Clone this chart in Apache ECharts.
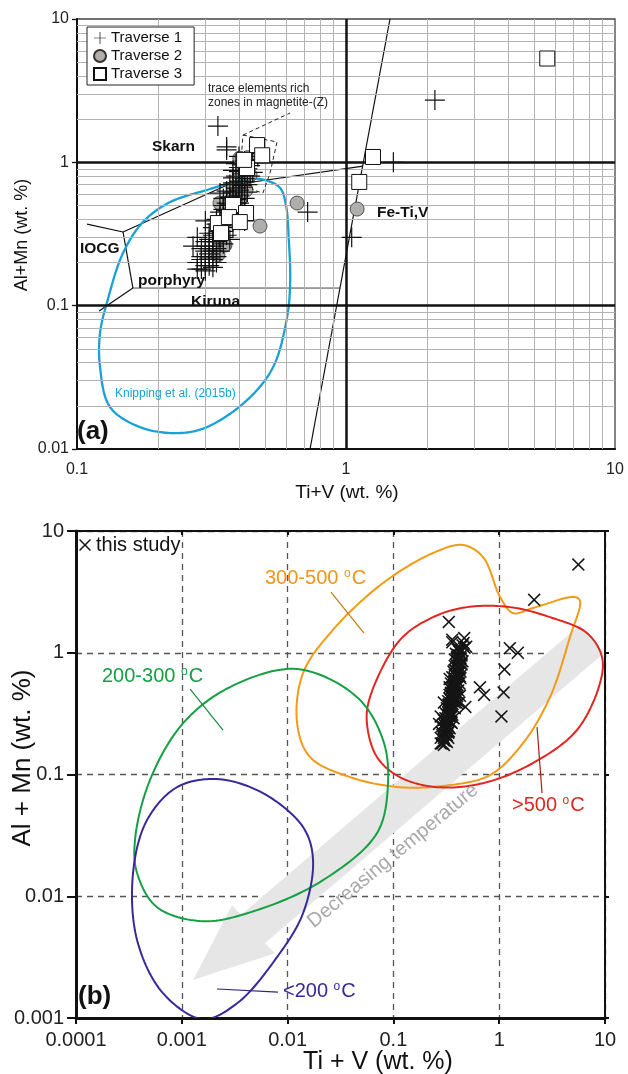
<!DOCTYPE html>
<html><head><meta charset="utf-8">
<script src="https://cdn.jsdelivr.net/npm/echarts@6/dist/echarts.min.js"></script>
<style>html,body{margin:0;padding:0;background:#fff}#c{width:628px;height:1074px}</style>
</head><body><div id="c"></div>
<script>
// ---------------- DATA (wt. %) ----------------
// Panel (a): magnetite analyses, three traverses  [Ti+V, Al+Mn]
const traverse1 = [
  [0.334,1.79],[2.14,2.72],[1.50,1.00],[1.05,0.30],[0.72,0.45],[0.36,1.28],[0.36,1.22],
  [0.29,0.18],[0.30,0.175],[0.31,0.19],[0.28,0.20],[0.30,0.20],[0.32,0.21],[0.29,0.22],
  [0.31,0.23],[0.33,0.22],[0.29,0.25],[0.31,0.25],[0.32,0.26],[0.34,0.24],[0.27,0.26],
  [0.28,0.30],[0.30,0.28],[0.31,0.29],[0.33,0.28],[0.35,0.27],[0.37,0.29],[0.31,0.32],
  [0.32,0.31],[0.34,0.33],[0.36,0.31],[0.32,0.35],[0.33,0.37],[0.35,0.36],[0.38,0.35],
  [0.30,0.39],[0.33,0.40],[0.34,0.42],[0.36,0.40],[0.39,0.41],[0.42,0.39],[0.34,0.45],
  [0.35,0.47],[0.37,0.45],[0.40,0.44],[0.35,0.50],[0.36,0.52],[0.38,0.50],[0.41,0.49],
  [0.35,0.56],[0.37,0.57],[0.39,0.55],[0.42,0.56],[0.34,0.61],[0.36,0.63],[0.38,0.62],
  [0.40,0.64],[0.43,0.62],[0.37,0.70],[0.38,0.72],[0.41,0.69],[0.38,0.78],[0.39,0.80],
  [0.42,0.77],[0.38,0.88],[0.40,0.86],[0.43,0.90],[0.39,0.98],[0.41,0.96],[0.40,1.10],
  [0.30,0.19],[0.32,0.185],[0.29,0.21],[0.31,0.215],[0.30,0.24],[0.32,0.24],[0.33,0.25],
  [0.30,0.26],[0.32,0.28],[0.34,0.30],[0.33,0.32],[0.35,0.33],[0.34,0.35],[0.36,0.38],
  [0.35,0.41],[0.37,0.42],[0.36,0.46],[0.38,0.47],[0.37,0.51],[0.39,0.52],[0.38,0.58],
  [0.40,0.59],[0.39,0.66],[0.41,0.67],[0.40,0.74],[0.42,0.73],[0.41,0.83],[0.40,0.92],
  [0.42,1.02],[0.44,1.05],[0.45,1.15],[0.46,1.20],[0.44,0.95],[0.45,0.85],
  [0.28,0.18],[0.33,0.20],[0.35,0.30],[0.38,0.39],[0.40,0.52],[0.43,0.70],[0.44,0.80],[0.47,1.10]
];
const traverse2 = [
  [0.403,1.07],[0.44,0.815],[0.425,0.641],[0.403,0.546],[0.364,0.443],[0.346,0.365],
  [0.334,0.226],[0.355,0.265],[0.38,0.662],[0.34,0.52],[0.375,0.546],
  [0.658,0.52],[1.10,0.472],[0.479,0.359]
];
const traverse3 = [
  [0.467,1.32],[0.488,1.12],[0.4285,0.912],[0.418,1.04],[0.38,0.504],[0.425,0.443],
  [0.334,0.377],[0.343,0.321],[0.367,0.415],[0.403,0.383],[1.26,1.09],[1.12,0.73],[5.6,5.3]
];
// Panel (b): same analyses plotted as "this study"
const thisStudy = traverse1.concat(traverse2, traverse3);

// Panel (a) discrimination-diagram boundaries
const lineLowLeft   = [[0.1208,0.0917],[0.1614,0.1327]];
const lineKiruna    = [[0.1614,0.1327],[0.951,0.1327]];
const lineIOCG      = [[0.1614,0.1327],[0.1483,0.3265]];
const lineIOCGLeft  = [[0.1483,0.3265],[0.109,0.371]];
const lineSkarn     = [[0.1483,0.3265],[0.355,0.684],[1.157,0.942]];
const lineFeTiV     = [[1.457,10],[0.735,0.01]];
const zoneZ         = [[0.414,1.55],[0.554,1.387],[0.522,0.842],[0.491,0.611],[0.451,0.641],[0.410,1.22],[0.414,1.55]];
const zoneZLeader   = [[0.414,1.55],[0.62,2.21]];
const knipping = [
  [0.4285,0.764],[0.50,0.752],[0.569,0.662],[0.598,0.504],[0.613,0.287],[0.620,0.144],
  [0.604,0.0832],[0.536,0.0373],[0.4285,0.0219],[0.304,0.01422],[0.2356,0.0129],
  [0.1714,0.01422],[0.1327,0.0196],[0.1218,0.0373],[0.1218,0.0644],[0.130,0.1094],
  [0.1483,0.233],[0.1758,0.383],[0.222,0.528],[0.304,0.641]
];

// Panel (b) temperature fields
const field300_500 = [
  [0.455,7.67],[0.703,6.11],[1.02,2.87],[1.35,2.12],[2.08,2.33],[5.2,2.87],[5.8,2.66],
  [4.67,1.35],[3.02,0.432],[1.68,0.181],[0.818,0.0989],[0.343,0.0818],[0.115,0.0787],
  [0.0389,0.0952],[0.0163,0.139],[0.0123,0.264],[0.014,0.681],[0.0268,1.54],[0.0798,3.74],[0.237,6.6]
];
const fieldGt500 = [
  [0.115,1.27],[0.0601,0.432],[0.0562,0.264],[0.070,0.139],[0.115,0.0952],[0.258,0.0787],
  [0.703,0.0849],[2.08,0.124],[5.43,0.232],[8.97,0.564],[9.37,0.922],[6.76,1.45],
  [3.02,1.96],[1.265,2.37],[0.497,2.37],[0.237,1.96]
];
const field200_300 = [
  [0.0123,0.735],[0.0453,0.432],[0.0798,0.192],[0.0889,0.0849],[0.070,0.033],[0.0216,0.01355],
  [0.00514,0.00769],[0.00158,0.00624],[0.000583,0.00813],[0.000378,0.0155],[0.000361,0.0289],
  [0.0005,0.09],[0.00103,0.264],[0.00286,0.523]
];
const fieldLt200 = [
  [0.00215,0.0917],[0.00585,0.0703],[0.014,0.037],[0.0174,0.0198],[0.014,0.00726],
  [0.00794,0.00316],[0.00333,0.00132],[0.00158,0.00098],[0.000664,0.0016],[0.000378,0.00436],
  [0.000346,0.0155],[0.000469,0.0422],[0.000902,0.0787]
];
const arrowBand = [[5.8,1.69],[0.00363,0.0070],[0.00298,0.00845],[0.00128,0.00205],[0.0076,0.0034],[0.0061,0.00412],[9.79,0.995]];
const leader300_500 = [[0.0257,3.15],[0.0527,1.45]];
const leader200_300 = [[0.0012,0.503],[0.00245,0.232]];
const leaderGt500   = [[2.28,0.245],[2.54,0.0703]];
const leaderLt200   = [[0.00215,0.00173],[0.00811,0.00163]];

// axis decades
const xDecadesA = [0.1, 1];
const yDecadesA = [0.01, 0.1, 1];
const thickA = [{xAxis:1},{yAxis:1},{yAxis:0.1}];

// ---------------- CHART ----------------
const F = 'Liberation Sans, Arial, Helvetica, sans-serif';
const PLUS = 'path://M0,9.4H20V10.6H0Z M9.4,0H10.6V20H9.4Z';
const CROSS = 'path://M0,1.7L1.7,0L10,8.3L18.3,0L20,1.7L11.7,10L20,18.3L18.3,20L10,11.7L1.7,20L0,18.3L8.3,10Z';

const minorX = [], minorY = [];
xDecadesA.forEach(d => { for (let k = 2; k <= 9; k++) minorX.push(+(k*d).toPrecision(3)); });
yDecadesA.forEach(d => { for (let k = 2; k <= 9; k++) minorY.push(+(k*d).toPrecision(3)); });

// closed centripetal Catmull-Rom through pixel points
function closedSpline(pts, seg) {
  const n = pts.length, out = [];
  const d = (p, q) => Math.max(Math.pow(Math.hypot(q[0]-p[0], q[1]-p[1]), 0.5), 1e-4);
  const lerp = (p, q, ta, tb, t) => [((tb-t)*p[0] + (t-ta)*q[0])/(tb-ta), ((tb-t)*p[1] + (t-ta)*q[1])/(tb-ta)];
  for (let i = 0; i < n; i++) {
    const p0 = pts[(i-1+n)%n], p1 = pts[i], p2 = pts[(i+1)%n], p3 = pts[(i+2)%n];
    const t0 = 0, t1 = t0 + d(p0,p1), t2 = t1 + d(p1,p2), t3 = t2 + d(p2,p3);
    for (let s = 0; s < seg; s++) {
      const t = t1 + (t2-t1)*s/seg;
      const A1 = lerp(p0,p1,t0,t1,t), A2 = lerp(p1,p2,t1,t2,t), A3 = lerp(p2,p3,t2,t3,t);
      const B1 = lerp(A1,A2,t0,t2,t), B2 = lerp(A2,A3,t1,t3,t);
      out.push(lerp(B1,B2,t1,t2,t));
    }
  }
  return out;
}

const chart = echarts.init(document.getElementById('c'), null, {renderer:'canvas'});

function lineSeries(data, color, width, xi, z, type) {
  return {type:'line', xAxisIndex:xi, yAxisIndex:xi, data:data, symbol:'none', silent:true, z:z||3,
          lineStyle:{color:color, width:width, type:type||'solid'}, animation:false};
}
function polySeries(points, xi, style, smooth, z) {
  return {type:'custom', xAxisIndex:xi, yAxisIndex:xi, data:[points[0]], clip:true, silent:true, z:z||3,
    renderItem: function(params, api) {
      let pts = points.map(p => api.coord(p));
      if (smooth) pts = closedSpline(pts, 16);
      return {type:'polygon', shape:{points:pts}, style:style, silent:true};
    }};
}
function txt(x, y, text, size, opts) {
  opts = opts || {};
  return {type:'text', x:x, y:y, rotation:opts.rotation||0, z:100, silent:true,
    style:{text:text, fontSize:size, fontFamily:F, fontWeight:opts.bold?'bold':'normal',
      fill:opts.color||'#111', align:opts.align||'left', textAlign:opts.align||'left',
      verticalAlign:'middle', textVerticalAlign:'middle'}};
}
function degTxt(x, y, num, color) {
  return {type:'text', x:x, y:y, z:100, silent:true,
    style:{text:'{m|'+num+' }{s|o}{m|C}', align:'left', verticalAlign:'middle',
      rich:{m:{fontSize:20, fontFamily:F, fill:color},
            s:{fontSize:12, fontFamily:F, fill:color, verticalAlign:'top', padding:[0,1,0,0]}}}};
}

const axLabA = {fontSize:16, fontFamily:F, color:'#222'};
const axLabB = {fontSize:20, fontFamily:F, color:'#222'};

const option = {
  animation:false,
  backgroundColor:'#fff',
  grid:[
    {left:77, top:19, width:538, height:430, show:true, borderColor:'#444', borderWidth:1.3, backgroundColor:'transparent'},
    {left:76, top:531, width:529, height:487, show:true, borderColor:'#111', borderWidth:2, backgroundColor:'transparent'}
  ],
  xAxis:[
    {gridIndex:0, type:'log', logBase:10, min:0.1, max:10,
     axisLine:{show:true, lineStyle:{color:'#111', width:2}}, axisTick:{show:false},
     axisLabel:{...axLabA, margin:13, formatter:v=>String(+v.toPrecision(3))},
     splitLine:{show:false}, minorTick:{show:false}},
    {gridIndex:1, type:'log', logBase:10, min:0.0001, max:10,
     axisLine:{show:true, lineStyle:{color:'#111', width:3}},
     axisTick:{show:true, inside:false, length:6, lineStyle:{color:'#111', width:2}},
     axisLabel:{...axLabB, margin:12, formatter:v=>String(+v.toPrecision(3))},
     splitLine:{show:true, lineStyle:{type:[6,5], color:'#555', width:1.3}}},
    {gridIndex:1, type:'log', logBase:10, min:0.0001, max:10, position:'top',
     axisLine:{show:true, lineStyle:{color:'#111', width:2}},
     axisTick:{show:true, inside:true, length:4, lineStyle:{color:'#111', width:2}},
     axisLabel:{show:false}, splitLine:{show:false}}
  ],
  yAxis:[
    {gridIndex:0, type:'log', logBase:10, min:0.01, max:10,
     axisLine:{show:true, lineStyle:{color:'#111', width:2}},
     axisTick:{show:true, length:5, lineStyle:{color:'#111', width:1.3}},
     axisLabel:{...axLabA, margin:8, formatter:v=>String(+v.toPrecision(3))},
     splitLine:{show:false}},
    {gridIndex:1, type:'log', logBase:10, min:0.001, max:10,
     axisLine:{show:true, lineStyle:{color:'#111', width:3}},
     axisTick:{show:true, length:9, lineStyle:{color:'#111', width:2}},
     axisLabel:{...axLabB, margin:12, formatter:v=>String(+v.toPrecision(3))},
     splitLine:{show:true, lineStyle:{type:[6,5], color:'#555', width:1.3}}},
    {gridIndex:1, type:'log', logBase:10, min:0.001, max:10, position:'right',
     axisLine:{show:true, lineStyle:{color:'#111', width:2}},
     axisTick:{show:true, length:4, lineStyle:{color:'#111', width:2}},
     axisLabel:{show:false}, splitLine:{show:false}}
  ],
  legend:[
    {orient:'vertical', left:87, top:27, backgroundColor:'#fff', borderColor:'#222', borderWidth:1,
     padding:[3,12,3,6], itemGap:2, itemWidth:12, itemHeight:12, selectedMode:false, z:50,
     textStyle:{fontSize:15, fontFamily:F, color:'#111', lineHeight:16},
     data:[{name:'Traverse 1'},{name:'Traverse 2'},{name:'Traverse 3'}]},
    {orient:'horizontal', left:79, top:535, padding:0, itemWidth:12, itemHeight:12, selectedMode:false, z:50,
     textStyle:{fontSize:20, fontFamily:F, color:'#111'}, data:[{name:'this study'}]}
  ],
  series:[
    // panel a grid lines
    {type:'scatter', xAxisIndex:0, yAxisIndex:0, data:[[1,1]], symbolSize:0, silent:true, z:1,
     markLine:{silent:true, symbol:['none','none'], label:{show:false}, animation:false,
       lineStyle:{color:'#b3b3b3', width:1, type:'solid'},
       data: minorX.map(v=>({xAxis:v})).concat(minorY.map(v=>({yAxis:v})))}},
    {type:'scatter', xAxisIndex:0, yAxisIndex:0, data:[[1,1]], symbolSize:0, silent:true, z:2,
     markLine:{silent:true, symbol:['none','none'], label:{show:false}, animation:false,
       lineStyle:{color:'#111', width:2.5, type:'solid'}, data: thickA}},
    lineSeries(lineLowLeft, '#111', 1.2, 0),
    lineSeries(lineKiruna, '#444', 1, 0),
    lineSeries(lineIOCG, '#111', 1.2, 0),
    lineSeries(lineIOCGLeft, '#111', 1.2, 0),
    lineSeries(lineSkarn, '#111', 1.2, 0),
    lineSeries(lineFeTiV, '#111', 1.2, 0),
    lineSeries(zoneZ, '#222', 1, 0, 6, [4,3]),
    lineSeries(zoneZLeader, '#222', 1, 0, 6, [4,3]),
    polySeries(knipping, 0, {fill:'none', stroke:'#18a1d7', lineWidth:2.3}, true, 4),
    {name:'Traverse 2', type:'scatter', xAxisIndex:0, yAxisIndex:0, data:traverse2, symbol:'circle', symbolSize:14, z:5,
     itemStyle:{color:'#b0aeab', borderColor:'#333', borderWidth:0.8, opacity:1}},
    {name:'Traverse 1', type:'scatter', xAxisIndex:0, yAxisIndex:0, data:traverse1, symbol:PLUS, symbolSize:20, z:6,
     itemStyle:{color:'#111', opacity:1}},
    {name:'Traverse 3', type:'scatter', xAxisIndex:0, yAxisIndex:0, data:traverse3, symbol:'rect', symbolSize:15, z:7,
     itemStyle:{color:'#fff', borderColor:'#111', borderWidth:1, opacity:1}},
    // panel b
    polySeries(arrowBand, 1, {fill:'#e6e6e6', stroke:'none'}, false, 2),
    polySeries(field300_500, 1, {fill:'none', stroke:'#f39a16', lineWidth:2}, true, 4),
    polySeries(fieldGt500, 1, {fill:'none', stroke:'#e2261f', lineWidth:2}, true, 4),
    polySeries(field200_300, 1, {fill:'none', stroke:'#15a043', lineWidth:2}, true, 4),
    polySeries(fieldLt200, 1, {fill:'none', stroke:'#37299a', lineWidth:2}, true, 4),
    lineSeries(leader300_500, '#c07a14', 1.2, 1, 4),
    lineSeries(leader200_300, '#1a8a3c', 1.2, 1, 4),
    lineSeries(leaderGt500, '#a8201c', 1.2, 1, 4),
    lineSeries(leaderLt200, '#2d2488', 1.2, 1, 4),
    {name:'this study', type:'scatter', xAxisIndex:1, yAxisIndex:1, data:thisStudy, symbol:CROSS, symbolSize:13, z:6,
     itemStyle:{color:'#151515', opacity:1}}
  ],
  graphic:[
    txt(22, 235, 'Al+Mn (wt. %)', 18, {rotation:Math.PI/2, align:'center'}),
    txt(347, 493, 'Ti+V (wt. %)', 19, {align:'center'}),
    txt(77, 432, '(a)', 26, {bold:true}),
    txt(152, 147, 'Skarn', 15.5, {bold:true}),
    txt(377, 213, 'Fe-Ti,V', 15.5, {bold:true}),
    txt(80, 249, 'IOCG', 15.5, {bold:true}),
    txt(138, 281, 'porphyry', 15.5, {bold:true}),
    txt(191, 302, 'Kiruna', 15.5, {bold:true}),
    txt(115, 394, 'Knipping et al. (2015b)', 12, {color:'#18a1d7'}),
    txt(208, 89, 'trace elements rich', 12, {color:'#222'}),
    txt(208, 103, 'zones in magnetite-(Z)', 12, {color:'#222'}),
    txt(23, 758, 'Al + Mn (wt. %)', 26, {rotation:Math.PI/2, align:'center'}),
    txt(378, 1062, 'Ti + V (wt. %)', 25, {align:'center'}),
    txt(78, 997, '(b)', 26, {bold:true}),
    txt(393, 856, 'Decreasing temperature', 20, {rotation:0.69, align:'center', color:'#a9a9a9'}),
    degTxt(265, 578, '300-500', '#f0951a'),
    degTxt(102, 676, '200-300', '#15a043'),
    degTxt(512, 805, '>500', '#e2261f'),
    degTxt(283, 991, '<200', '#37299a')
  ]
};
chart.setOption(option);
</script>
</body></html>
